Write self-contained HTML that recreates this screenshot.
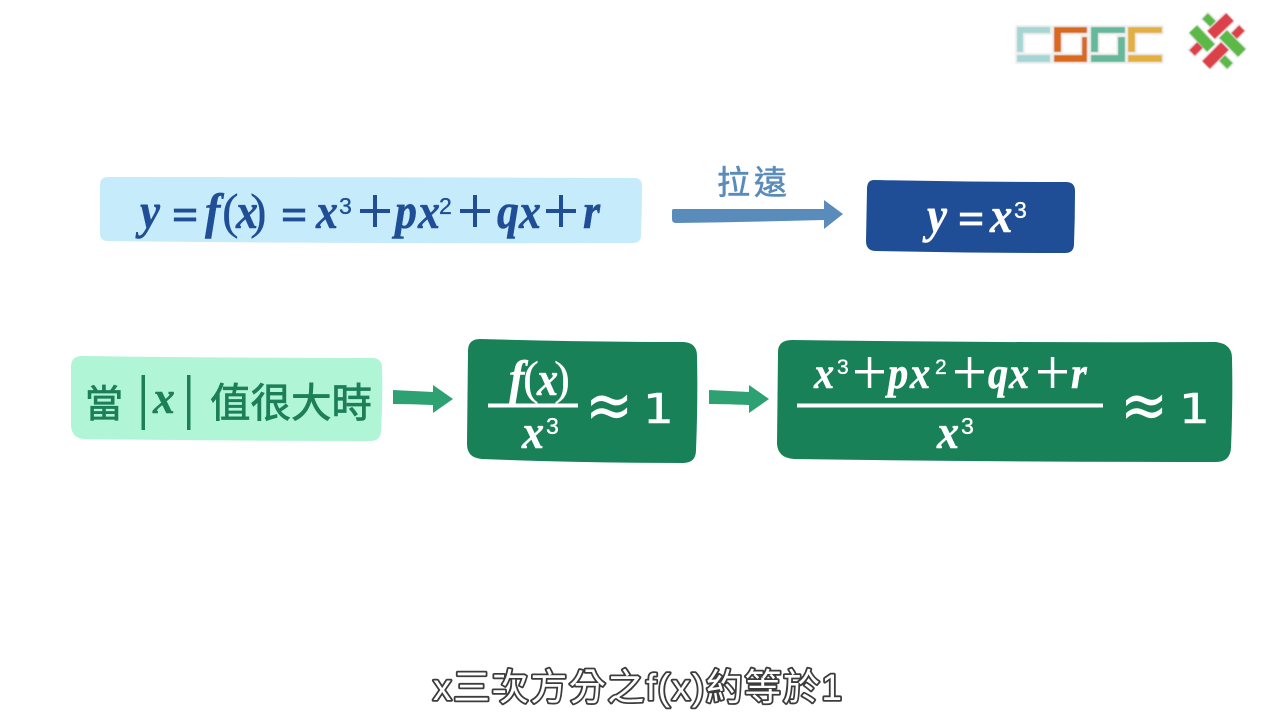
<!DOCTYPE html>
<html>
<head>
<meta charset="utf-8">
<style>
html,body{margin:0;padding:0;background:#fff;width:1280px;height:720px;overflow:hidden}
svg{display:block}
.m{font-family:"Liberation Serif",serif;font-weight:700;font-style:italic;stroke-width:.5px}
.r{font-family:"Liberation Serif",serif;font-weight:400;stroke-width:.2px}
.b{font-family:"Liberation Serif",serif;font-weight:700;stroke-width:.8px}
.s{font-family:"Liberation Sans",sans-serif;font-weight:400;stroke-width:.35px}
.c{font-family:"Liberation Sans","Noto Sans CJK TC",sans-serif}
.d{font-family:"DejaVu Sans",sans-serif}
.math rect{stroke:none}
</style>
</head>
<body>
<svg width="1280" height="720" viewBox="0 0 1280 720" xmlns="http://www.w3.org/2000/svg">
<defs>
<filter id="soft" x="-5%" y="-5%" width="110%" height="110%"><feGaussianBlur stdDeviation="0.4"/></filter>
</defs>
<rect width="1280" height="720" fill="#fff"/>

<!-- logo CGGC -->
<g filter="url(#soft)">
<g fill="#fff" stroke="#eeeeee" stroke-width="4" stroke-linejoin="round">
<path d="M1017 27h33v6h-27v19h-6zM1017 55h33v7h-33z"/>
<path d="M1054 27h33v6h-26v19h-7zM1054 55h28v-18h5v25h-33z"/>
<path d="M1091 27h34v6h-27v19h-7zM1091 55h27v-18h7v25h-34z"/>
<path d="M1128 27h34v6h-27v19h-7zM1128 55h34v7h-34z"/>
</g>
<path d="M1017 27h33v6h-27v19h-6zM1017 55h33v7h-33z" fill="#a5d6d3"/>
<path d="M1054 27h33v6h-26v19h-7zM1054 55h28v-18h5v25h-33z" fill="#d9691f"/>
<path d="M1091 27h34v6h-27v19h-7zM1091 55h27v-18h7v25h-34z" fill="#66b89a"/>
<path d="M1128 27h34v6h-27v19h-7zM1128 55h34v7h-34z" fill="#e2b03f"/>

<!-- logo star -->
<g stroke="#eeeeee" stroke-width="14">
<path d="M1193 29L1211 48M1223 34L1242 53M1230 17L1211 35M1225 46L1206 65"/>
</g>
<g stroke="#eeeeee" stroke-width="11">
<path d="M1204 15L1214 24M1221 57L1231 67M1243 27L1233 37M1201 44L1191 54"/>
</g>
<g stroke-width="11">
<path d="M1193 29L1211 48" stroke="#5cb947"/>
<path d="M1223 34L1242 53" stroke="#5cb947"/>
<path d="M1230 17L1211 35" stroke="#dc4148"/>
<path d="M1225 46L1206 65" stroke="#dc4148"/>
</g>
<g stroke-width="8">
<path d="M1205 16L1213 24" stroke="#5cb947"/>
<path d="M1222 58L1230 66" stroke="#5cb947"/>
<path d="M1242 28L1234 36" stroke="#dc4148"/>
<path d="M1200 45L1192 53" stroke="#dc4148"/>
</g>
</g>

<!-- boxes -->
<path d="M108 177 Q370 177 634 178 Q642 178 642 186 Q642 210 641 235 Q641 243 633 243 Q370 244 108 241 Q100 241 100 233 L100 185 Q100 177 108 177Z" fill="#c6ebfa"/>
<path d="M874 180 Q970 182 1066 182 Q1075 182 1075 191 Q1075 218 1074 244 Q1074 253 1065 253 Q970 253 876 251 Q866 251 866 241 L867 189 Q867 180 874 180Z" fill="#1f4e96"/>
<path d="M82 356 Q230 358 372 358 Q382 358 382 368 Q383 400 381 430 Q381 441 370 441 Q230 441 84 439 Q72 438 71 426 L71 367 Q71 356 82 356Z" fill="#aff5d6"/>
<path d="M480 339 Q580 342 684 342 Q697 343 697 356 Q698 400 696 450 Q696 463 683 463 Q580 463 482 459 Q467 458 467 444 L468 351 Q468 339 480 339Z" fill="#188158"/>
<path d="M792 340 Q1000 343 1216 342 Q1232 344 1232 358 Q1233 400 1231 448 Q1230 462 1216 462 Q1000 462 794 459 Q778 458 777 444 L778 352 Q778 340 792 340Z" fill="#188158"/>

<!-- arrows -->
<path d="M673 209 L824 209 L824 200 L843 214 L824 229 L824 220 Q750 222 676 223 Q672 223 672 219 L672 212Q672 209 673 209Z" fill="#5a8cbb"/>
<path d="M393 390 L433 392 L433 385 L453 399 L433 413 L433 405 Q410 404 393 404Z" fill="#2da172"/>
<path d="M709 390 L749 392 L749 385 L769 399 L749 413 L749 405 Q725 404 709 404Z" fill="#2da172"/>

<!-- 拉遠 -->
<text x="717" y="194" class="c" font-size="33" letter-spacing="4" fill="#5a8cbb" stroke="#5a8cbb" stroke-width="0.6">拉遠</text>

<!-- row 1 formula -->
<g class="math" fill="#1f4e96" stroke="#1f4e96">
<text transform="translate(140,228) scale(.9,1)" class="m" font-size="50">y</text>
<text transform="translate(172,230) scale(1.05,1)" class="b" font-size="44">=</text>
<text transform="translate(205,228) scale(.92,1)" class="m" font-size="50">f</text>
<text x="222" y="228" class="r" font-size="50">(</text>
<text transform="translate(236,228) scale(.88,1)" class="m" font-size="50">x</text>
<text x="250" y="228" class="r" font-size="50">)</text>
<text transform="translate(281,230) scale(1.05,1)" class="b" font-size="44">=</text>
<text transform="translate(316,228) scale(.88,1)" class="m" font-size="50">x</text>
<text x="339" y="214" class="s" font-size="23">3</text>
<rect x="360" y="209" width="30" height="4"/><rect x="373" y="195" width="4" height="32"/>
<text transform="translate(395,228) scale(.88,1)" class="m" font-size="50">p</text>
<text transform="translate(418,228) scale(.88,1)" class="m" font-size="50">x</text>
<text x="439" y="214" class="s" font-size="23">2</text>
<rect x="460" y="209" width="30" height="4"/><rect x="473" y="195" width="4" height="32"/>
<text transform="translate(497,228) scale(.88,1)" class="m" font-size="50">q</text>
<text transform="translate(519,228) scale(.88,1)" class="m" font-size="50">x</text>
<rect x="546" y="209" width="30" height="4"/><rect x="559" y="195" width="4" height="32"/>
<text transform="translate(583,228) scale(.88,1)" class="m" font-size="50">r</text>
</g>

<!-- y = x^3 -->
<g class="math" fill="#fff" stroke="#fff">
<text transform="translate(927,232) scale(.9,1)" class="m" font-size="50">y</text>
<text transform="translate(958,234) scale(1.05,1)" class="b" font-size="44">=</text>
<text transform="translate(990,232) scale(.9,1)" class="m" font-size="50">x</text>
<text x="1014" y="218" class="s" font-size="23">3</text>
</g>

<!-- row 2 label -->
<g fill="#1d7f58" stroke="#1d7f58">
<text x="85" y="417" class="c" font-size="38" stroke-width="0.8">當</text>
<rect x="141.500" y="375" width="3.500" height="55" stroke="none"/>
<rect x="187" y="375" width="3.500" height="55" stroke="none"/>
<text transform="translate(153,413) scale(.95,1)" class="m" font-size="46">x</text>
<text x="210" y="417" class="c" font-size="40.500" stroke-width="0.8">值很大時</text>
</g>

<!-- f(x)/x^3 -->
<g class="math" fill="#fff" stroke="#fff">
<text transform="translate(509,395) scale(.92,1)" class="m" font-size="50">f</text>
<text x="523" y="394" class="r" font-size="48">(</text>
<text transform="translate(537,395) scale(.88,1)" class="m" font-size="48">x</text>
<text x="554" y="394" class="r" font-size="48">)</text>
<rect x="488" y="403.500" width="90" height="4"/>
<text transform="translate(522,448) scale(.92,1)" class="m" font-size="48">x</text>
<text x="546" y="434" class="s" font-size="23">3</text>
<text transform="translate(585,428) scale(1.15,1.35)" class="d" font-size="50" stroke="none">≈</text>
<text transform="translate(643,423) scale(1.18,1)" class="d" font-size="41" stroke-width="0.6">1</text>
</g>

<!-- big fraction -->
<g class="math" fill="#fff" stroke="#fff">
<text transform="translate(814,388) scale(.92,1)" class="m" font-size="44">x</text>
<text x="837" y="374" class="s" font-size="21">3</text>
<rect x="855" y="370" width="29" height="3.500"/><rect x="867.800" y="357" width="3.500" height="31"/>
<text transform="translate(888,388) scale(.92,1)" class="m" font-size="44">p</text>
<text transform="translate(910,388) scale(.92,1)" class="m" font-size="44">x</text>
<text x="935" y="374" class="s" font-size="21">2</text>
<rect x="955" y="370" width="29" height="3.500"/><rect x="967.800" y="357" width="3.500" height="31"/>
<text transform="translate(988,388) scale(.92,1)" class="m" font-size="44">q</text>
<text transform="translate(1009,388) scale(.92,1)" class="m" font-size="44">x</text>
<rect x="1038" y="370" width="29" height="3.500"/><rect x="1050.800" y="357" width="3.500" height="31"/>
<text transform="translate(1071,388) scale(.92,1)" class="m" font-size="44">r</text>
<rect x="797" y="403.500" width="306" height="4"/>
<text transform="translate(937,448) scale(.92,1)" class="m" font-size="48">x</text>
<text x="961" y="434" class="s" font-size="23">3</text>
<text transform="translate(1120,428) scale(1.15,1.35)" class="d" font-size="50" stroke="none">≈</text>
<text transform="translate(1179,423) scale(1.18,1)" class="d" font-size="41" stroke-width="0.6">1</text>
</g>

<!-- subtitle -->
<text x="433" y="700" class="c" font-size="37" fill="#fff" stroke="#3c3c3c" stroke-width="3.600" stroke-linejoin="round" paint-order="stroke" textLength="409" lengthAdjust="spacing">x三次方分之f(x)約等於1</text>
</svg>
</body>
</html>
